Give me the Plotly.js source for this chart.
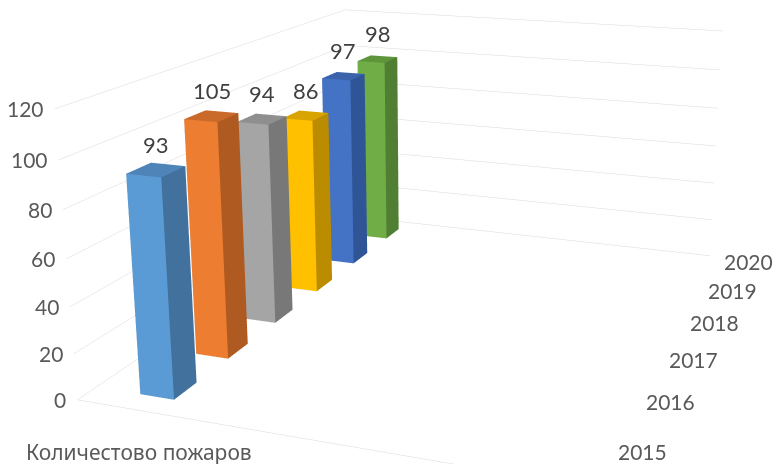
<!DOCTYPE html>
<html>
<head>
<meta charset="utf-8">
<script src="https://cdn.plot.ly/plotly-3.0.1.min.js"></script>
<style>
html,body{margin:0;padding:0;background:#fff;overflow:hidden;width:777px;height:464px;}
#wrap{position:relative;width:777px;height:464px;overflow:hidden;}
#chart{position:absolute;}
</style>
</head>
<body>
<div id="wrap"><div id="chart"></div></div>
<script>
// ---- data ----
const category = "Количестово пожаров";
const years = ["2015", "2016", "2017", "2018", "2019", "2020"];
const fires = [93, 105, 94, 86, 97, 98];
const frontColors = ["#5B9BD5", "#ED7D31", "#A5A5A5", "#FFC000", "#4472C4", "#70AD47"];
const sideColors  = ["#41719C", "#AE5A21", "#787878", "#BC8C00", "#2F5597", "#507E32"];
const topColors   = ["#4E84B8", "#C9692A", "#8F8F8F", "#D9A400", "#3A63AC", "#5E953B"];
const zTicks = [0, 20, 40, 60, 80, 100, 120];

// ---- view settings ----
const K = 2.46;                       // canvas enlargement (scene extends past the frame)
const W = Math.round(777 * K), H = Math.round(464 * K);
const boxCenter = [436, 194];         // where the scene centre lands in the window
const chartDiv = document.getElementById("chart");
chartDiv.style.width = W + "px";
chartDiv.style.height = H + "px";
chartDiv.style.left = (boxCenter[0] - W / 2) + "px";
chartDiv.style.top = (boxCenter[1] - H / 2) + "px";

// ---- geometry helpers (positions in axis units) ----
const catX0 = 1.0, catX1 = 1.75;      // bar extent along category axis
const barHalfDepth = 0.2;             // bar half-depth along series axis
const catMid = (catX0 + catX1) / 2;

const traces = [];
fires.forEach((v, i) => {
  const y0 = i + 0.5 - barHalfDepth, y1 = i + 0.5 + barHalfDepth;
  const X = [catX0, catX1, catX1, catX0, catX0, catX1, catX1, catX0];
  const Y = [y0, y0, y1, y1, y0, y0, y1, y1];
  const Z = [0, 0, 0, 0, v, v, v, v];
  const I = [0, 0, 3, 3, 0, 0, 1, 1, 0, 0, 4, 4];
  const J = [1, 5, 2, 6, 3, 7, 2, 6, 1, 2, 5, 6];
  const Kk = [5, 4, 6, 7, 7, 4, 6, 5, 2, 3, 6, 7];
  const fc = [frontColors[i], frontColors[i], sideColors[i], sideColors[i],
              sideColors[i], sideColors[i], sideColors[i], sideColors[i],
              sideColors[i], sideColors[i], topColors[i], topColors[i]];
  traces.push({
    type: "mesh3d", x: X, y: Y, z: Z, i: I, j: J, k: Kk,
    facecolor: fc, flatshading: true,
    lighting: {ambient: 1, diffuse: 0, specular: 0, roughness: 1, fresnel: 0},
    hoverinfo: "skip", showscale: false, name: years[i]
  });
});

const fontFam = "Lato, 'Noto Sans', sans-serif";
const labelFont = {family: fontFam, size: 22, color: "#404040"};
const tickFont = {family: fontFam, size: 21, color: "#595959"};
const catFont = {family: "'Noto Sans', 'Open Sans', sans-serif", size: 21, color: "#595959"};

const annotations = [];
fires.forEach((v, i) => annotations.push({
  x: catMid, y: i + 0.5, z: v, text: String(v),
  showarrow: false, yanchor: "bottom", yshift: 10, font: labelFont
}));
zTicks.forEach(t => annotations.push({
  x: 0, y: 0, z: t, text: String(t),
  showarrow: false, xanchor: "right", xshift: -9, font: tickFont
}));
years.forEach((yr, i) => annotations.push({
  x: 10, y: i + 0.5, z: 0, text: yr,
  showarrow: false, xanchor: "left", xshift: 20, yshift: 7, font: tickFont
}));
annotations.push({
  x: catMid, y: 0, z: 0, text: category,
  showarrow: false, yanchor: "top", yshift: -26, font: catFont
});

const hiddenAxis = {
  showgrid: false, zeroline: false, showline: false, showticklabels: false,
  showbackground: false, title: {text: ""}, ticks: "", showspikes: false
};

const layout = {
  width: W, height: H,
  margin: {l: 0, r: 0, t: 0, b: 0},
  paper_bgcolor: "rgba(0,0,0,0)",
  showlegend: false,
  scene: {
    domain: {x: [0, 1], y: [0, 1]},
    aspectmode: "manual",
    aspectratio: {x: 1.0, y: 1.3, z: 0.575},
    camera: {
      eye: {x: 1.0, y: -2.707, z: 0.83},
      center: {x: 0, y: 0, z: 0},
      up: {x: 0, y: 0, z: 1},
      projection: {type: "perspective"}
    },
    xaxis: Object.assign({}, hiddenAxis, {range: [0, 10], showline: true, linecolor: "#d9d9d9", linewidth: 1}),
    yaxis: Object.assign({}, hiddenAxis, {range: [0, 6]}),
    zaxis: Object.assign({}, hiddenAxis, {range: [0, 120], tickvals: zTicks, showgrid: true, gridcolor: "#d9d9d9", gridwidth: 1}),
    annotations: annotations
  }
};

Plotly.newPlot(chartDiv, traces, layout, {displayModeBar: false});
</script>
</body>
</html>
